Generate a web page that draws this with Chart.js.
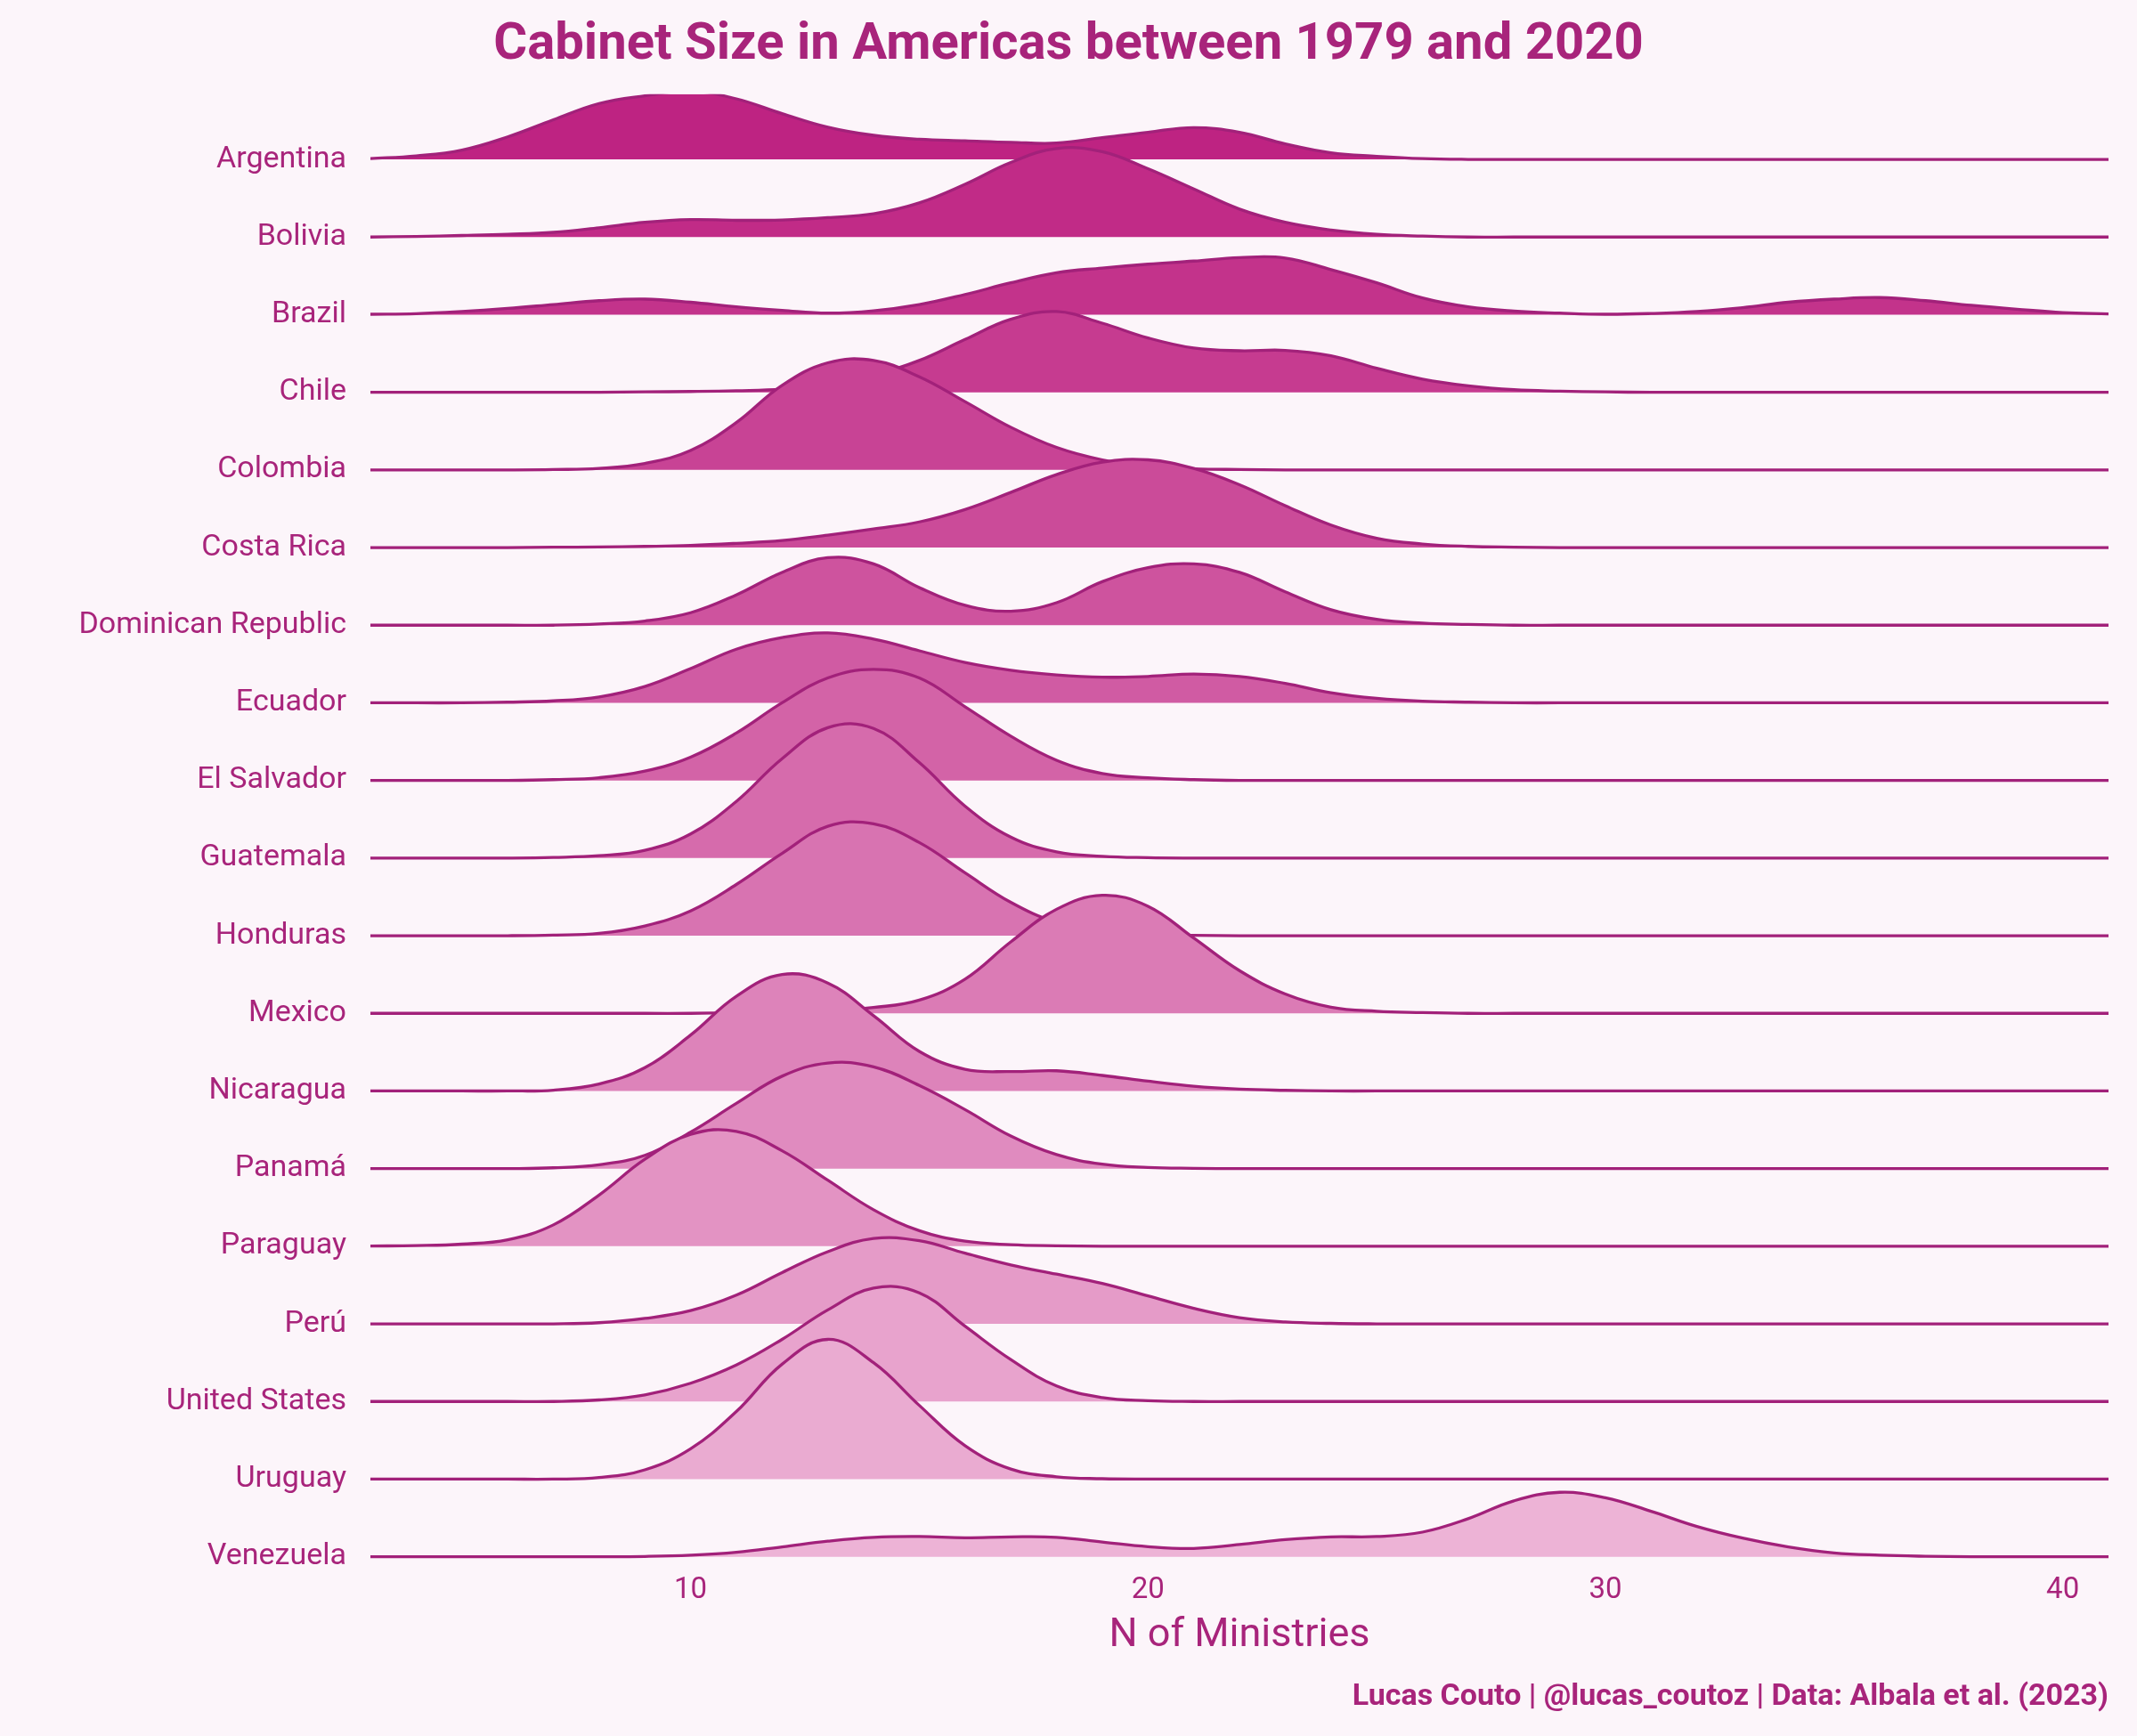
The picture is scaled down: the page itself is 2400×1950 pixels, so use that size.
<!DOCTYPE html>
<html>
<head>
<meta charset="utf-8">
<script src="https://cdn.jsdelivr.net/npm/chart.js@4.4.1/dist/chart.umd.min.js"></script>
<style>
  html, body { margin: 0; padding: 0; background: #FCF5FA; }
  canvas { display: block; }
</style>
</head>
<body>
<canvas id="c" width="2400" height="1950" style="width:2400px;height:1950px"></canvas>
<script>
// ---------- DATA (density heights, in ridge-row units) ----------
const xValues = [3,4,5,6,7,8,9,10,11,12,13,14,15,16,17,18,19,20,21,22,23,24,25,26,27,28,29,30,31,32,33,34,35,36,37,38,39,40,41];
const xTicks = [10, 20, 30, 40];
const countries = ["Argentina","Bolivia","Brazil","Chile","Colombia","Costa Rica","Dominican Republic","Ecuador","El Salvador","Guatemala","Honduras","Mexico","Nicaragua","Panamá","Paraguay","Perú","United States","Uruguay","Venezuela"];

const argentina   = [0.01,0.045,0.12,0.29,0.51,0.72,0.82,0.88,0.78,0.59,0.415,0.31,0.26,0.24,0.22,0.21,0.28,0.35,0.41,0.35,0.20,0.085,0.04,0.01,0,0,0,0,0,0,0,0,0,0,0,0,0,0,0];
const bolivia     = [0,0.008,0.02,0.035,0.06,0.12,0.19,0.225,0.215,0.22,0.25,0.30,0.44,0.68,0.96,1.14,1.10,0.88,0.62,0.36,0.19,0.09,0.035,0.012,0,0,0,0,0,0,0,0,0,0,0,0,0,0,0];
const brazil      = [0.005,0.012,0.04,0.08,0.13,0.18,0.20,0.16,0.10,0.055,0.02,0.05,0.13,0.26,0.41,0.54,0.60,0.65,0.69,0.735,0.73,0.58,0.41,0.215,0.10,0.045,0.02,0.005,0.015,0.04,0.09,0.16,0.20,0.22,0.18,0.12,0.07,0.027,0.01];
const chile       = [0,0,0,0,0,0,0.005,0.01,0.02,0.04,0.10,0.22,0.41,0.68,0.94,1.04,0.89,0.70,0.57,0.535,0.54,0.47,0.31,0.17,0.084,0.034,0.015,0.005,0,0,0,0,0,0,0,0,0,0,0];
const colombia    = [0,0,0,0,0.005,0.02,0.084,0.25,0.61,1.09,1.38,1.41,1.20,0.88,0.55,0.29,0.13,0.046,0.015,0.005,0,0,0,0,0,0,0,0,0,0,0,0,0,0,0,0,0,0,0];
const costaRica   = [0,0,0,0,0.004,0.008,0.015,0.027,0.054,0.09,0.16,0.24,0.33,0.49,0.71,0.94,1.10,1.13,1.02,0.81,0.54,0.29,0.12,0.046,0.015,0.005,0,0,0,0,0,0,0,0,0,0,0,0,0];
const dominican   = [0,0,0,0,0,0.015,0.054,0.16,0.39,0.68,0.87,0.79,0.485,0.256,0.18,0.29,0.56,0.74,0.79,0.68,0.43,0.20,0.076,0.027,0.01,0,0,0,0,0,0,0,0,0,0,0,0,0,0];
const ecuador     = [0,0,0,0.008,0.025,0.076,0.21,0.44,0.69,0.84,0.90,0.82,0.67,0.52,0.42,0.36,0.33,0.34,0.37,0.34,0.25,0.13,0.057,0.02,0.008,0,0,0,0,0,0,0,0,0,0,0,0,0,0];
const elSalvador  = [0,0,0,0,0.01,0.035,0.12,0.30,0.61,1.00,1.32,1.43,1.32,0.95,0.57,0.26,0.09,0.034,0.01,0,0,0,0,0,0,0,0,0,0,0,0,0,0,0,0,0,0,0,0];
const guatemala   = [0,0,0,0,0.008,0.03,0.10,0.31,0.73,1.28,1.68,1.67,1.23,0.67,0.27,0.08,0.023,0.005,0,0,0,0,0,0,0,0,0,0,0,0,0,0,0,0,0,0,0,0,0];
const honduras    = [0,0,0,0,0.008,0.03,0.126,0.32,0.66,1.06,1.41,1.44,1.20,0.81,0.43,0.17,0.05,0.015,0.004,0,0,0,0,0,0,0,0,0,0,0,0,0,0,0,0,0,0,0,0];
const mexico      = [0,0,0,0,0,0,0,0,0.008,0.015,0.03,0.075,0.17,0.44,0.92,1.34,1.52,1.38,0.97,0.55,0.25,0.08,0.027,0.01,0,0,0,0,0,0,0,0,0,0,0,0,0,0,0];
const nicaragua   = [0,0,0,0,0.01,0.09,0.30,0.72,1.22,1.50,1.39,0.97,0.51,0.28,0.25,0.26,0.20,0.126,0.06,0.023,0.008,0,0,0,0,0,0,0,0,0,0,0,0,0,0,0,0,0,0];
const panama      = [0,0,0,0,0.01,0.05,0.17,0.47,0.84,1.19,1.36,1.31,1.07,0.76,0.42,0.18,0.057,0.015,0.004,0,0,0,0,0,0,0,0,0,0,0,0,0,0,0,0,0,0,0,0];
const paraguay    = [0.003,0.008,0.027,0.084,0.275,0.66,1.12,1.44,1.48,1.23,0.85,0.47,0.20,0.065,0.02,0.006,0,0,0,0,0,0,0,0,0,0,0,0,0,0,0,0,0,0,0,0,0,0,0];
const peru        = [0,0,0,0,0,0.015,0.07,0.17,0.37,0.66,0.93,1.10,1.07,0.91,0.76,0.64,0.52,0.36,0.20,0.08,0.025,0.006,0,0,0,0,0,0,0,0,0,0,0,0,0,0,0,0,0];
const unitedStates= [0,0,0,0,0,0.02,0.085,0.235,0.47,0.80,1.18,1.46,1.40,0.97,0.54,0.20,0.05,0.01,0,0,0,0,0,0,0,0,0,0,0,0,0,0,0,0,0,0,0,0,0];
const uruguay     = [0,0,0,0,0,0.02,0.12,0.39,0.87,1.48,1.80,1.50,0.95,0.43,0.13,0.03,0.005,0,0,0,0,0,0,0,0,0,0,0,0,0,0,0,0,0,0,0,0,0,0];
const venezuela   = [0,0,0,0,0,0,0.004,0.02,0.057,0.126,0.20,0.25,0.26,0.245,0.256,0.25,0.19,0.13,0.107,0.157,0.22,0.256,0.26,0.317,0.49,0.72,0.83,0.76,0.585,0.39,0.24,0.126,0.05,0.02,0.006,0,0,0,0];

const densities = [argentina, bolivia, brazil, chile, colombia, costaRica, dominican, ecuador, elSalvador, guatemala, honduras, mexico, nicaragua, panama, paraguay, peru, unitedStates, uruguay, venezuela];

// ---------- STYLE ----------
const TEXT = '#A8247B';
const LINE = '#A2217A';
const FONT = 'Roboto';
const topRGB = [190, 35, 130];
const botRGB = [237, 179, 214];
function ridgeFill(i, n) {
  const t = i / (n - 1);
  const c = topRGB.map((v, k) => Math.round(v + (botRGB[k] - v) * t));
  return `rgb(${c[0]},${c[1]},${c[2]})`;
}

const n = countries.length;
const datasets = countries.map((name, i) => {
  const base = n - 1 - i;
  return {
    label: name,
    data: xValues.map((x, k) => ({ x: x, y: base + densities[i][k] })),
    borderColor: LINE,
    borderWidth: 3.3,
    borderJoinStyle: 'round',
    backgroundColor: ridgeFill(i, n),
    fill: { value: base },
    pointRadius: 0,
    pointHoverRadius: 0,
    tension: 0.4,
    clip: 0,
    order: base
  };
});

new Chart(document.getElementById('c'), {
  type: 'line',
  data: { datasets },
  options: {
    responsive: false,
    animation: false,
    devicePixelRatio: 1,
    events: [],
    layout: { padding: { left: 32, right: 32, top: 0, bottom: 0 } },
    plugins: {
      legend: { display: false },
      tooltip: { enabled: false },
      title: {
        display: true,
        text: 'Cabinet Size in Americas between 1979 and 2020',
        color: TEXT,
        font: { family: FONT, size: 58, weight: 'bold' },
        padding: { top: 17, bottom: 19.1 }
      },
      subtitle: {
        display: true,
        position: 'bottom',
        align: 'end',
        text: 'Lucas Couto | @lucas_coutoz | Data: Albala et al. (2023)',
        color: TEXT,
        font: { family: FONT, size: 34, weight: 'bold' },
        padding: { top: 0, bottom: 23 }
      }
    },
    scales: {
      x: {
        type: 'linear',
        min: 3,
        max: 41,
        grid: { display: false, drawTicks: false },
        border: { display: false },
        afterBuildTicks: s => { s.ticks = xTicks.map(v => ({ value: v })); },
        afterFit: s => { s.height = 133.2; },
        ticks: { color: TEXT, font: { family: FONT, size: 33 }, padding: 14, maxRotation: 0, autoSkip: false },
        title: {
          display: true,
          text: 'N of Ministries',
          color: TEXT,
          font: { family: FONT, size: 45 },
          padding: { top: 0, bottom: 21 }
        }
      },
      y: {
        type: 'linear',
        min: -0.05,
        max: 18.841,
        grid: { display: false, drawTicks: false },
        border: { display: false },
        afterBuildTicks: s => { s.ticks = countries.map((c, i) => ({ value: n - 1 - i })); },
        afterFit: s => { s.width = 384; },
        ticks: {
          color: TEXT,
          font: { family: FONT, size: 34 },
          padding: 27,
          autoSkip: false,
          callback: v => countries[n - 1 - v]
        }
      }
    }
  }
});
</script>
</body>
</html>
